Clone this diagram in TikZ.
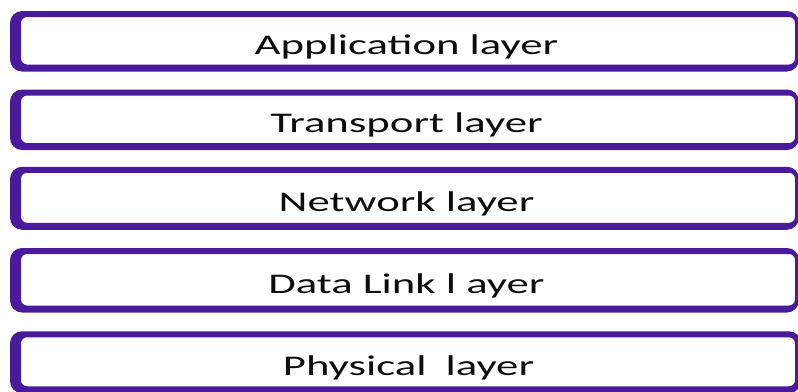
\documentclass[tikz,border=0pt]{standalone}
\usepackage{fontspec}
\newfontfamily\layerfont[FakeStretch=1.57]{Carlito}
\definecolor{layerpurple}{RGB}{74,26,156}
\begin{document}
\begin{tikzpicture}[x=1pt,y=-1pt,
    layerbox/.style={inner sep=0pt, outer sep=0pt, minimum width=783pt,
      text height=32pt, text depth=6pt, text=black!95,
      font=\layerfont\fontsize{28.5pt}{30pt}\selectfont},
    ring/.style={fill=layerpurple, even odd rule}]
    \useasboundingbox (0,0) rectangle (798,391);
    \clip (0,0) rectangle (798,391);

    \node[layerbox, minimum height=54pt] (app) at (406.5,41) {Application layer};
    \node[layerbox, minimum height=54pt] (trans) at (406.5,119.5) {Transport layer};
    \node[layerbox, minimum height=56.5pt] (net) at (406.5,198) {Network layer};
    \node[layerbox, minimum height=58pt] (link) at (406.5,280) {Data Link l ayer};
    \node[layerbox, minimum height=55.5pt] (phys) at (408.5,362) {Physical\hspace{9pt} layer};

    \fill[ring] [rounded corners=12pt] ([xshift=-5pt,yshift=3pt]app.north west) rectangle ([xshift=1pt,yshift=-3.5pt]app.south east)
      [rounded corners=6pt] ([xshift=6pt,yshift=-3pt]app.north west) rectangle ([xshift=-3pt,yshift=3.5pt]app.south east);
    \fill[ring] [rounded corners=12pt] ([xshift=-5pt,yshift=3pt]trans.north west) rectangle ([xshift=1pt,yshift=-3.5pt]trans.south east)
      [rounded corners=6pt] ([xshift=6pt,yshift=-3pt]trans.north west) rectangle ([xshift=-3pt,yshift=3.5pt]trans.south east);
    \fill[ring] [rounded corners=12pt] ([xshift=-5pt,yshift=3pt]net.north west) rectangle ([xshift=1pt,yshift=-3.5pt]net.south east)
      [rounded corners=6pt] ([xshift=6pt,yshift=-3pt]net.north west) rectangle ([xshift=-3pt,yshift=3.5pt]net.south east);
    \fill[ring] [rounded corners=12pt] ([xshift=-5pt,yshift=3pt]link.north west) rectangle ([xshift=1pt,yshift=-3.5pt]link.south east)
      [rounded corners=6pt] ([xshift=6pt,yshift=-3pt]link.north west) rectangle ([xshift=-3pt,yshift=3.5pt]link.south east);
    \fill[ring] [rounded corners=12pt] ([xshift=-7pt,yshift=3pt]phys.north west) rectangle ([xshift=1pt,yshift=-3.5pt]phys.south east)
      [rounded corners=6pt] ([xshift=4pt,yshift=-3pt]phys.north west) rectangle ([xshift=-5pt,yshift=3.5pt]phys.south east);
  \end{tikzpicture}
\end{document}
